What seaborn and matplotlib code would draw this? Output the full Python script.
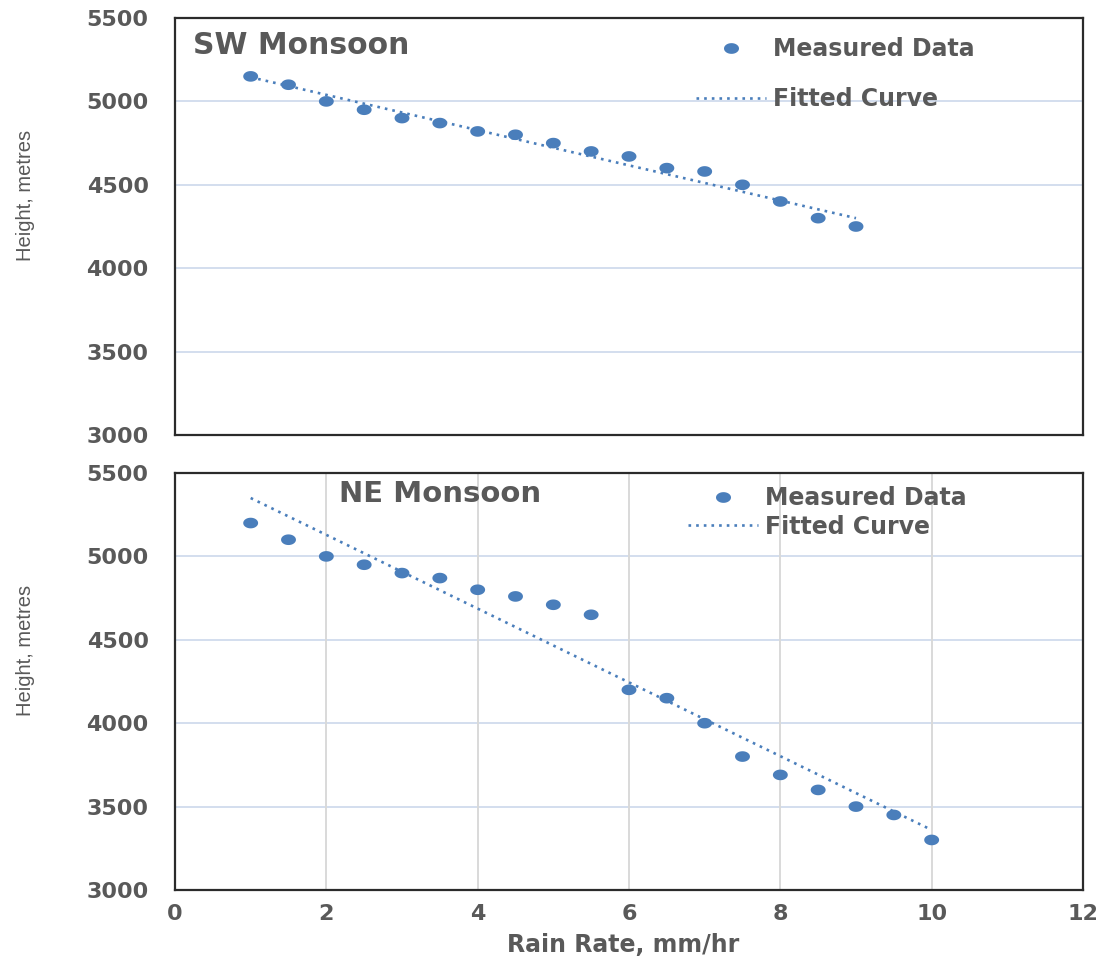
import numpy as np
import pandas as pd
import matplotlib
matplotlib.use("Agg")
import matplotlib.pyplot as plt
from matplotlib.path import Path
from matplotlib.lines import Line2D
import seaborn as sns

# ---------------- data ----------------
sw_rain = [1, 1.5, 2, 2.5, 3, 3.5, 4, 4.5, 5, 5.5, 6, 6.5, 7, 7.5, 8, 8.5, 9]
sw_height = [5150, 5100, 5000, 4950, 4900, 4870, 4820, 4800, 4750, 4700,
             4670, 4600, 4580, 4500, 4400, 4300, 4250]
sw_fit_rain = [1, 5, 9]
sw_fit_height = [5145, 4722, 4300]

ne_rain = [1, 1.5, 2, 2.5, 3, 3.5, 4, 4.5, 5, 5.5, 6, 6.5, 7, 7.5, 8, 8.5, 9, 9.5, 10]
ne_height = [5200, 5100, 5000, 4950, 4900, 4870, 4800, 4760, 4710, 4650,
             4200, 4150, 4000, 3800, 3690, 3600, 3500, 3450, 3300]
ne_fit_rain = [1, 4, 10]
ne_fit_height = [5350, 4687, 3360]

y_ticks = [3000, 3500, 4000, 4500, 5000, 5500]
x_ticks = [0, 2, 4, 6, 8, 10, 12]

panel_titles = ["SW Monsoon", "NE Monsoon"]
legend_labels = ["Measured Data", "Fitted Curve"]
x_label = "Rain Rate, mm/hr"
y_label = "Height, metres"

# ---------------- style ----------------
sns.set_theme(style="white")
plt.rcParams["font.family"] = ["DejaVu Sans"]

BLUE = "#4a7ebb"
TXT = "#595959"
HGRID = "#d3deee"
VGRID = "#d9d9d9"
SPINE = "#2b2b2b"

theta = np.linspace(0, 2 * np.pi, 60)
ell = Path(np.c_[1.4 * np.cos(theta), np.sin(theta)], closed=True)

W, H = 1102, 959
fig = plt.figure(figsize=(W / 100, H / 100), dpi=100)

def px_axes(l, t, r, b):
    return fig.add_axes([l / W, 1 - b / H, (r - l) / W, (b - t) / H])

ax_top = px_axes(175, 18, 1083, 435)
ax_bot = px_axes(175, 473, 1083, 890)

panels = [
    (ax_top, sw_rain, sw_height, sw_fit_rain, sw_fit_height),
    (ax_bot, ne_rain, ne_height, ne_fit_rain, ne_fit_height),
]

for i, (ax, xr, yh, fx, fy) in enumerate(panels):
    df = pd.DataFrame({"rain": xr, "height": yh})
    dfit = pd.DataFrame({"rain": fx, "height": fy})
    sns.lineplot(data=dfit, x="rain", y="height", ax=ax, color=BLUE,
                 lw=1.9, linestyle=(0, (1, 1.9)), zorder=3)
    sns.scatterplot(data=df, x="rain", y="height", ax=ax, color=BLUE,
                    marker=ell, s=115, linewidth=0, edgecolor="none", zorder=4)
    ax.set_xlim(0, 12)
    ax.set_ylim(3000, 5500)
    ax.set_yticks(y_ticks)
    ax.set_xticks(x_ticks)
    ax.set_xlabel("")
    ax.set_ylabel("")
    ax.grid(False)
    for yv in y_ticks[1:-1]:
        ax.axhline(yv, color=HGRID, lw=1.4, zorder=1)
    if i == 1:
        for xv in x_ticks[1:-1]:
            ax.axvline(xv, color=VGRID, lw=1.4, zorder=1)
    for s in ax.spines.values():
        s.set_visible(True)
        s.set_color(SPINE)
        s.set_linewidth(1.6)
    ax.tick_params(axis="both", length=0, labelsize=16, labelcolor=TXT)
    ax.tick_params(axis="y", pad=19)
    ax.tick_params(axis="x", pad=10)
    for lab in ax.get_xticklabels() + ax.get_yticklabels():
        lab.set_fontweight("bold")
    ax.set_ylabel(y_label, fontsize=14.5, color=TXT, family="Liberation Sans",
                  fontweight="normal")
    ax.yaxis.set_label_coords(-0.154, 0.575)

ax_top.tick_params(labelbottom=False)

ax_bot.set_xlabel(x_label, fontsize=17, color=TXT, fontweight="bold", va="top")
ax_bot.xaxis.set_label_coords(0.493, -0.103)

# panel titles
ax_top.text(193 / W, 1 - 45 / H, panel_titles[0], transform=fig.transFigure,
            fontsize=21.5, fontweight="bold", color=TXT, va="center", ha="left")
ax_bot.text(339 / W, 1 - 494 / H, panel_titles[1], transform=fig.transFigure,
            fontsize=21, fontweight="bold", color=TXT, va="center", ha="left")

# legends
def make_handles():
    h1 = Line2D([], [], linestyle="none", marker=ell, markersize=10.8,
                markerfacecolor=BLUE, markeredgewidth=0)
    h2 = Line2D([], [], color=BLUE, lw=1.9, linestyle=(0, (1, 1.9)))
    return [h1, h2]

for ax, (lx, ly), spacing in [(ax_top, (696, 37), 1.1), (ax_bot, (688, 486), 0.2)]:
    leg = ax.legend(make_handles(), legend_labels, loc="upper left",
                    bbox_to_anchor=(lx / W, 1 - ly / H), bbox_transform=fig.transFigure,
                    frameon=False, borderpad=0, borderaxespad=0,
                    handlelength=2.95, handletextpad=0.3, labelspacing=spacing,
                    prop={"size": 17, "weight": "bold"})
    for t in leg.get_texts():
        t.set_color(TXT)

fig.savefig("out.png", dpi=100, facecolor="white")
